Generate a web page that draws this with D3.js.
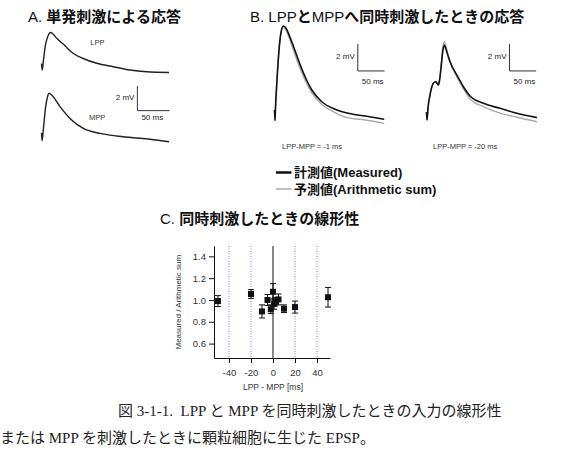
<!DOCTYPE html>
<html>
<head>
<meta charset="utf-8">
<title>LPP / MPP linearity</title>
<style>
  body { margin: 0; background: #fff; }
  text { font-family: "Liberation Sans", "Noto Sans CJK JP", sans-serif; }
  .caption { font-family: "Liberation Serif", "Noto Sans CJK JP", serif; }
</style>
<script src="https://cdn.jsdelivr.net/npm/d3@7"></script>
</head>
<body>
<script>

// ---- panel A: single stimulation (time in ms, voltage in mV) ----
var tA   = [-0.3, 0.8, 2.8, 5.9, 9.8, 13.8, 17.7, 23.9, 31.7, 38, 40.6, 48.4, 64, 86, 112, 138, 164, 199]
var lppV = [0.77, 0.24, 1.06, 2.28, 3.0, 3.29, 3.17, 2.8, 2.44, 2.14, 1.99, 1.63, 1.2, 0.79, 0.51, 0.24, 0.1, 0.04]
var tM   = [-0.3, 0.5, 2.8, 5.9, 9, 11.9, 16, 28.6, 44.2, 65, 91, 117, 143, 169, 199]
var mppV = [0.73, 0.08, 1.14, 2.76, 3.66, 3.96, 3.8, 2.87, 1.92, 1.11, 0.7, 0.49, 0.35, 0.22, 0.02]

// ---- panel B: simultaneous stimulation ----
var tBL   = [-0.9, 0, 0.9, 3.75, 7.5, 11.3, 15.6, 20.6, 26.3, 34.3, 43.7, 56.3, 68.9, 87.6, 112.6, 137.5, 168.9, 204.5]
var measL = [1.04, 0.26, 1.19, 3.26, 5.48, 6.81, 7.26, 7.1, 6.6, 5.78, 4.74, 3.5, 2.52, 1.65, 1.09, 0.79, 0.59, 0.35]
var sumL  = [1.04, 0.26, 1.19, 3.26, 5.48, 6.75, 7.15, 6.95, 6.4, 5.5, 4.45, 3.25, 2.3, 1.45, 0.85, 0.45, 0.3, 0.05]

var tBR   = [-0.4, 0.6, 2.4, 6.2, 12.4, 17.4, 21.8, 23.6, 26.8, 30, 33, 37.5, 43.7, 56.3, 68.7, 81.2, 106.2, 137.5, 168.9, 206.4]
var measR = [0.89, 0.3, 1.19, 2.15, 3.01, 3.13, 2.89, 3.13, 4.13, 5.36, 5.85, 5.36, 4.61, 3.63, 2.76, 2.07, 1.53, 1.16, 0.79, 0.47]
var sumR  = [0.89, 0.3, 1.19, 2.15, 3.01, 3.13, 2.89, 3.13, 4.3, 5.6, 6.1, 5.5, 4.6, 3.5, 2.6, 1.85, 1.28, 0.8, 0.5, 0.17]

// ---- panel C: measured / arithmetic sum ----
var offsets = [-50, -20, -10, -5, -2, 0, 1, 2, 5, 10, 20, 50]
var ratio   = [0.99, 1.055, 0.895, 1.0, 0.915, 1.075, 0.965, 0.985, 1.005, 0.92, 0.935, 1.025]
var sem     = [0.05, 0.04, 0.06, 0.05, 0.04, 0.075, 0.05, 0.04, 0.05, 0.035, 0.055, 0.09]
var xTicks = [-40, -20, 0, 20, 40]
var yTicks = [0.6, 0.8, 1.0, 1.2, 1.4]
var guides = [-40, -20, 20, 40]

var width = 562, height = 452

var svg = d3.select('body').append('svg')
    .attr('width', width)
    .attr('height', height)

svg.append('rect').attr('width', width).attr('height', height).attr('fill', '#fff')

function zip(t, v) { return t.map(function (d, i) { return [d, v[i]] }) }

function trace(x, y, t, v, color, w) {
    var line = d3.line()
        .x(function (d) { return x(d[0]) })
        .y(function (d) { return y(d[1]) })
        .curve(d3.curveMonotoneX)
    svg.append('path')
        .attr('d', line(zip(t, v)))
        .attr('fill', 'none')
        .attr('stroke', color)
        .attr('stroke-width', w)
        .attr('stroke-linejoin', 'round')
}

function scaleBar(x, y, t0, v0, lblY) {
    var g = svg.append('g').attr('stroke', '#333').attr('stroke-width', 1).attr('fill', 'none')
    g.append('line').attr('x1', x(t0)).attr('x2', x(t0)).attr('y1', y(v0)).attr('y2', y(v0 + 2))
    g.append('line').attr('x1', x(t0)).attr('x2', x(t0 + 50)).attr('y1', y(v0)).attr('y2', y(v0))
    svg.append('text').attr('x', x(t0) - 3).attr('y', y(v0 + 1.1)).attr('dy', '0.35em')
        .attr('text-anchor', 'end').attr('font-size', 8).attr('fill', '#222').text('2 mV')
    svg.append('text').attr('x', x(t0) + 4).attr('y', y(v0) + lblY).attr('dy', '0.35em')
        .attr('font-size', 8).attr('fill', '#222').text('50 ms')
}

// titles: latin runs regular, kana/kanji runs bold
function title(x, y, s) {
    var t = svg.append('text').attr('x', x).attr('y', y).attr('font-size', 15).attr('fill', '#111')
    s.match(/[\u3000-\u9fff]+|[^\u3000-\u9fff]+/g).forEach(function (run) {
        t.append('tspan').attr('font-weight', /[\u3000-\u9fff]/.test(run) ? 'bold' : 'normal').text(run)
    })
}
title(28, 22, 'A. 単発刺激による応答')
title(250, 22, 'B. LPPとMPPへ同時刺激したときの応答')
title(160, 224, 'C. 同時刺激したときの線形性')

// ---- panel A ----
var xA = d3.scaleLinear().domain([0, 50]).range([41.7, 73.7])
var yLPP = d3.scaleLinear().domain([0, 2]).range([73, 48.4])
var yMPP = d3.scaleLinear().domain([0, 2]).range([142, 117.4])
trace(xA, yLPP, tA, lppV, '#222', 1.4)
trace(xA, yMPP, tM, mppV, '#222', 1.4)
svg.append('text').attr('x', xA(76)).attr('y', yLPP(2.28)).attr('font-size', 7.5).attr('fill', '#333').text('LPP')
svg.append('text').attr('x', xA(74)).attr('y', yMPP(1.75)).attr('font-size', 7.5).attr('fill', '#333').text('MPP')
scaleBar(xA, yMPP, 149.5, 2.55, 7)

// ---- panel B ----
var yB = d3.scaleLinear().domain([0, 2]).range([124, 97])
var xBL = d3.scaleLinear().domain([0, 50]).range([275, 301.7])
var xBR = d3.scaleLinear().domain([0, 50]).range([426.7, 453.4])
trace(xBL, yB, tBL, sumL, '#aaa', 1.4)
trace(xBL, yB, tBL, measL, '#111', 1.6)
trace(xBR, yB, tBR, sumR, '#aaa', 1.4)
trace(xBR, yB, tBR, measR, '#111', 1.6)
scaleBar(xBL, yB, 155, 3.93, 10)
scaleBar(xBR, yB, 155, 3.93, 10)
svg.append('text').attr('x', 282).attr('y', 146).attr('dy', '0.35em').attr('font-size', 7.5).attr('fill', '#333')
    .text('LPP-MPP = -1 ms')
svg.append('text').attr('x', 433).attr('y', 146).attr('dy', '0.35em').attr('font-size', 7.5).attr('fill', '#333')
    .text('LPP-MPP = -20 ms')

// legend
var legend = [['計測値(Measured)', '#111', 2.5], ['予測値(Arithmetic sum)', '#aaa', 1.5]]
legend.forEach(function (d, i) {
    var y = 172.5 + i * 16.5
    svg.append('line').attr('x1', 276).attr('x2', 291.5).attr('y1', y).attr('y2', y)
        .attr('stroke', d[1]).attr('stroke-width', d[2])
    svg.append('text').attr('x', 294).attr('y', y).attr('dy', '0.36em')
        .attr('font-size', 13).attr('font-weight', 'bold').attr('fill', '#111').text(d[0])
})

// ---- panel C ----
var x = d3.scaleLinear().domain([-53.6, 51.8]).range([214, 330])
var y = d3.scaleLinear().domain([0.468, 1.495]).range([358, 246])

svg.selectAll('.guide').data(guides).enter().append('line')
    .attr('x1', function (d) { return x(d) }).attr('x2', function (d) { return x(d) })
    .attr('y1', y(1.495)).attr('y2', y(0.468))
    .attr('stroke', '#7f7fd8').attr('stroke-width', 1).attr('stroke-dasharray', '1,1.5')

svg.append('line').attr('x1', x(0)).attr('x2', x(0)).attr('y1', y(1.495)).attr('y2', y(0.468))
    .attr('stroke', '#111').attr('stroke-width', 1)

var yAxis = svg.append('g').attr('transform', 'translate(214,0)')
    .call(d3.axisLeft(y).tickValues(yTicks).tickFormat(d3.format('.1f')).tickSize(5).tickSizeOuter(0).tickPadding(3))
var xAxis = svg.append('g').attr('transform', 'translate(0,358)')
    .call(d3.axisBottom(x).tickValues(xTicks).tickSize(5).tickSizeOuter(0).tickPadding(6))
;[xAxis, yAxis].forEach(function (a) {
    a.selectAll('path, line').attr('stroke', '#111')
    a.selectAll('text').attr('font-size', 9.5).attr('fill', '#333')
        .attr('font-family', '"Liberation Sans", sans-serif')
})
xAxis.selectAll('text').text(function (d) { return d < 0 ? '-' + Math.abs(d) : d })

var pts = offsets.map(function (d, i) { return { x: d, y: ratio[i], e: sem[i] } })
var pg = svg.append('g').attr('stroke', '#111').attr('stroke-width', 1)
pts.forEach(function (p) {
    var cx = x(p.x)
    pg.append('line').attr('x1', cx).attr('x2', cx).attr('y1', y(p.y - p.e)).attr('y2', y(p.y + p.e))
    pg.append('line').attr('x1', cx - 3).attr('x2', cx + 3).attr('y1', y(p.y - p.e)).attr('y2', y(p.y - p.e))
    pg.append('line').attr('x1', cx - 3).attr('x2', cx + 3).attr('y1', y(p.y + p.e)).attr('y2', y(p.y + p.e))
})
svg.selectAll('.pt').data(pts).enter().append('rect')
    .attr('x', function (d) { return x(d.x) - 3 })
    .attr('y', function (d) { return y(d.y) - 3 })
    .attr('width', 6).attr('height', 6).attr('fill', '#111')

svg.append('text').attr('x', x(0)).attr('y', 390).attr('text-anchor', 'middle')
    .attr('font-size', 8.5).attr('fill', '#333').text('LPP - MPP [ms]')
svg.append('text').attr('transform', 'translate(181,' + y(0.98) + ') rotate(-90)')
    .attr('text-anchor', 'middle').attr('font-size', 8).attr('fill', '#333').text('Measured / Arithmetic sum')

// caption
svg.append('text').attr('class', 'caption').attr('x', 118).attr('y', 416).attr('font-size', 15).attr('fill', '#222')
    .attr('xml:space', 'preserve').text('図 3-1-1.  LPP と MPP を同時刺激したときの入力の線形性')
svg.append('text').attr('class', 'caption').attr('x', 0).attr('y', 443).attr('font-size', 15).attr('fill', '#222')
    .attr('xml:space', 'preserve').text('または MPP を刺激したときに顆粒細胞に生じた EPSP。')

</script>
</body>
</html>
